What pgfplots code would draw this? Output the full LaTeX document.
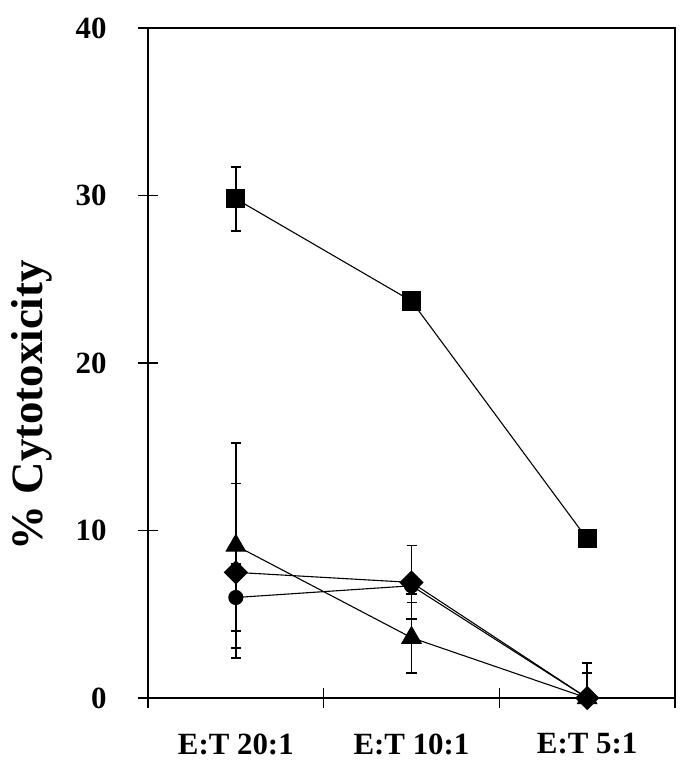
\documentclass[border=0pt]{standalone}
\usepackage{fontspec}
\setmainfont{Liberation Serif}
\usepackage{pgfplots}
\pgfplotsset{compat=1.18}
\begin{document}
\begin{tikzpicture}
\begin{axis}[
 scale only axis, width=527bp, height=670bp,
 xmin=-0.5, xmax=2.5, ymin=0, ymax=40,
 xtick={-0.5,0.5,1.5,2.5},
 xticklabels={E:T 20:1, E:T 10:1, E:T 5:1},
 x tick label as interval,
 ytick={0,10,20,30,40},
 tick align=center, major tick length=20bp,
 xtick pos=bottom, ytick pos=left,
 axis line style={line width=1.6bp},
 every tick/.style={line width=1.6bp, black},
 ticklabel style={font=\fontsize{31}{31}\selectfont\bfseries},
 xticklabel style={yshift=-22bp},
 yticklabel style={xshift=-28bp},
 /pgf/number format/assume math mode=true,
 ylabel={\% Cytotoxicity},
 ylabel style={font=\fontsize{45}{45}\selectfont\bfseries, at={(axis description cs:-0.22,0.437)}, anchor=center},
 clip=false,
]
\pgfplotsset{mystyle/.style={black, line width=1.1bp,
   error bars/.cd, y dir=both, y explicit,
   error bar style={line width=1.8bp, black},
   error mark options={line width=1.8bp, mark size=5bp, black, rotate=90},
   /pgfplots/.cd}}
% squares
\addplot[mark=square*, mark size=9bp, mark options={solid, fill=black}, mystyle]
 table[x=x, y=y, y error plus=ep, y error minus=em] {
x y ep em
0 29.8 1.9 1.9
1 23.7 0 0
2 9.5 0 0
};
% circles
\addplot[mark=*, mark size=7bp, mark options={solid, fill=black}, mystyle]
 table[x=x, y=y, y error plus=ep, y error minus=em] {
x y ep em
0 6.0 2.0 2.0
1 6.7 0.5 0.5
2 0 0 0
};
% diamonds
\addplot[mark=square*, mark size=8bp, mark options={solid, fill=black, rotate=45}, mystyle]
 table[x=x, y=y, y error plus=ep, y error minus=em] {
x y ep em
0 7.5 5.3 5.1
1 6.9 2.2 2.2
2 0 1.5 0
};
% triangles
\addplot[mark=triangle*, mark size=11bp, mark options={solid, fill=black}, mystyle]
 table[x=x, y=y, y error plus=ep, y error minus=em] {
x y ep em
0 9.1 6.1 6.1
1 3.6 2.1 2.1
2 0 2.1 0
};
\end{axis}
\pgfresetboundingbox
\path ([shift={(-148bp,-74bp)}]current axis.south west) rectangle ([shift={(14bp,28bp)}]current axis.north east);
\end{tikzpicture}
\end{document}
